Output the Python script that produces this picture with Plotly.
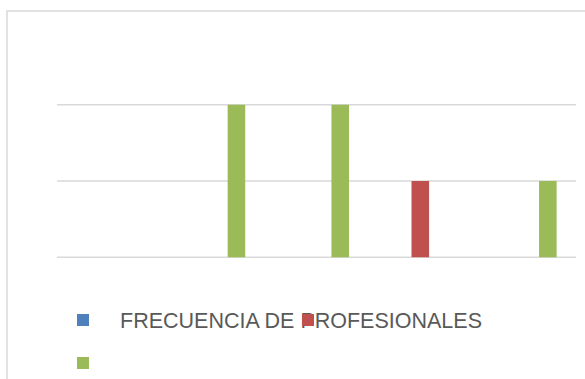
import plotly.graph_objects as go

# Categories and frequencies per series
categorias = ["1", "2", "3", "4", "5"]
serie_azul = [0, 0, 0, 0, 0]
serie_roja = [0, 0, 0, 1, 0]
serie_verde = [0, 2, 2, 0, 1]
nombres = ["FRECUENCIA DE PROFESIONALES", "", ""]
niveles = [0, 1, 2]

W, H = 585, 379
ML, MR, MT, MB = 57, 9, 104, 121
pw, ph = W - ML - MR, H - MT - MB
GRID = "#d9d9d9"


def px_x(p):
    return (p - ML) / pw


def px_y(p):
    return (H - MB - p) / ph


fig = go.Figure()
fig.add_trace(go.Bar(x=categorias, y=serie_azul, name=nombres[0],
                     marker=dict(color="#4F81BD", line=dict(width=0)),
                     legend="legend"))
fig.add_trace(go.Bar(x=categorias, y=serie_roja, name=nombres[1],
                     marker=dict(color="#C0504D", line=dict(width=0)),
                     legend="legend"))
fig.add_trace(go.Bar(x=categorias, y=serie_verde, name=nombres[2],
                     marker=dict(color="#9BBB59", line=dict(width=0)),
                     legend="legend2"))

legend_font = dict(family="Liberation Sans, Arial", size=21.5, color="#595959")

# horizontal gridlines at every level, including the range ends
grid_shapes = [dict(type="line", xref="paper", yref="y", x0=0, x1=1,
                    y0=v, y1=v, line=dict(color=GRID, width=1.3),
                    layer="below") for v in niveles]
# outer chart frame
frame = dict(type="rect", xref="paper", yref="paper",
             x0=px_x(7), x1=px_x(592), y0=px_y(390), y1=px_y(11),
             line=dict(color=GRID, width=1.5), layer="below")

fig.update_layout(
    width=W, height=H,
    margin=dict(l=ML, r=MR, t=MT, b=MB, autoexpand=False),
    paper_bgcolor="white", plot_bgcolor="white",
    barmode="group", bargap=0.314, bargroupgap=0.26,
    xaxis=dict(showticklabels=False, showgrid=False, zeroline=False,
               showline=False, ticks=""),
    yaxis=dict(range=[-0.01, 2.01], tickvals=niveles, showticklabels=False,
               showgrid=False, zeroline=False, showline=False, ticks=""),
    legend=dict(orientation="h", x=px_x(46), y=px_y(320), xanchor="left",
                yanchor="middle", font=legend_font, itemwidth=64,
                entrywidthmode="pixels", entrywidth=146,
                bgcolor="rgba(0,0,0,0)", traceorder="normal"),
    legend2=dict(orientation="h", x=px_x(46), y=px_y(363), xanchor="left",
                 yanchor="middle", font=legend_font, itemwidth=64,
                 bgcolor="rgba(0,0,0,0)"),
    shapes=grid_shapes + [frame],
    showlegend=True,
)

fig.write_html("out.html")
